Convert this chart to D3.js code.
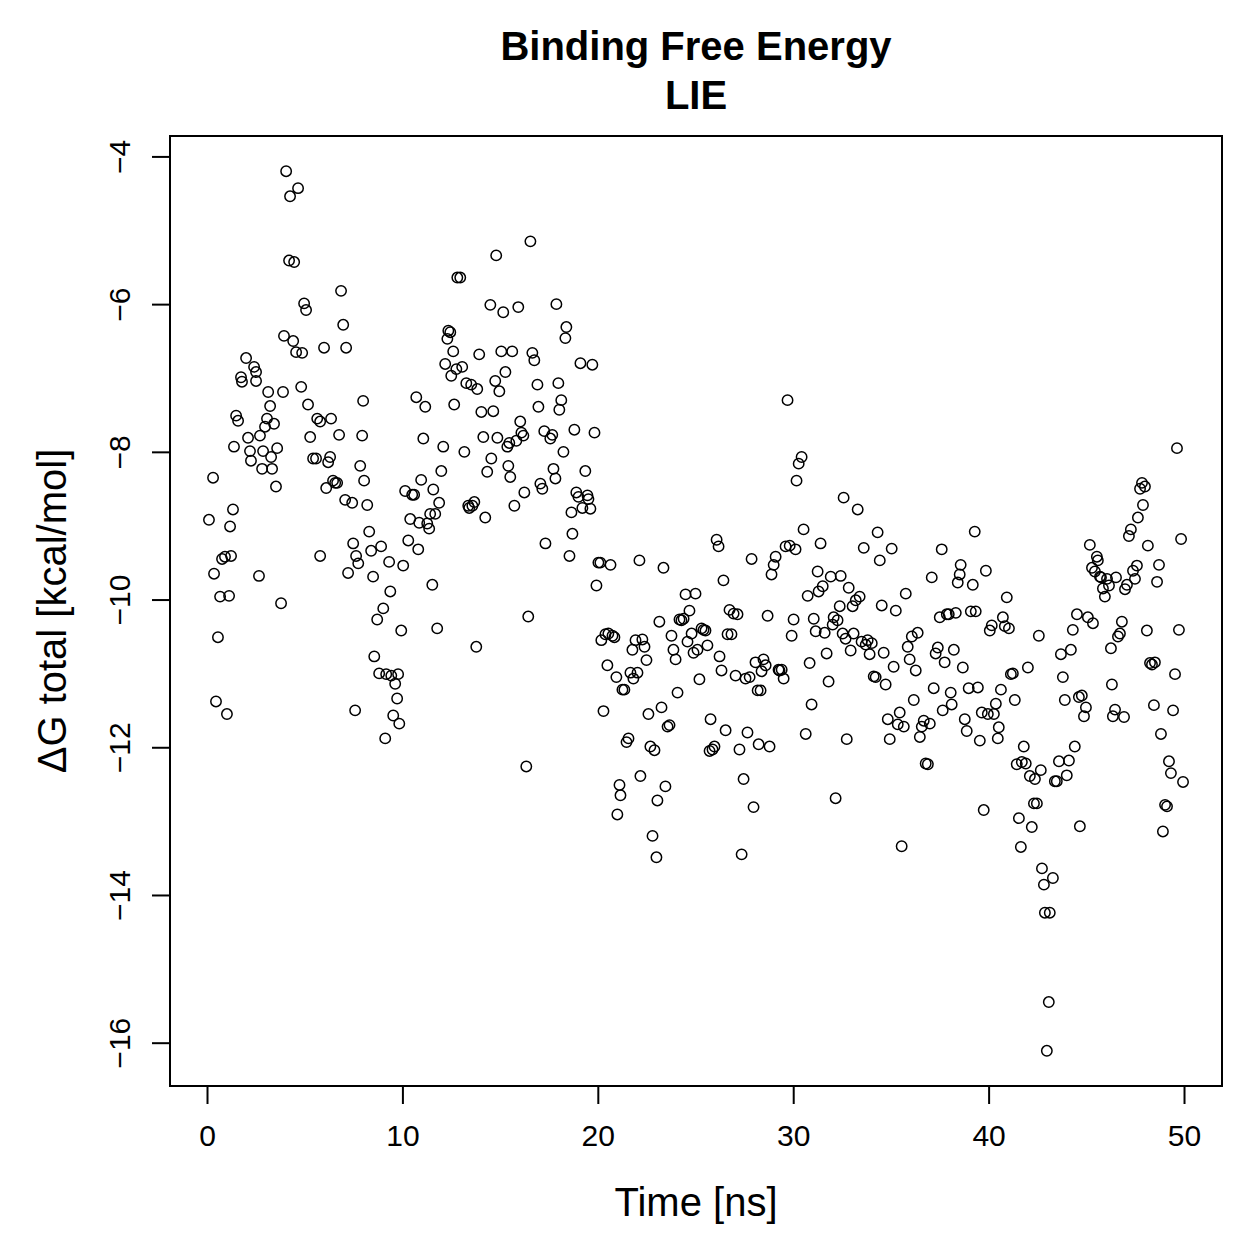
<!DOCTYPE html>
<html>
<head>
<meta charset="utf-8">
<script src="https://cdn.jsdelivr.net/npm/d3@7"></script>
<style>
  body { margin: 0; background: #fff; }
  svg text { font-family: "Liberation Sans", Arial, sans-serif; fill: #000; }
</style>
</head>
<body>
<svg id="chart" width="1259" height="1259"></svg>
<script>
// time in ns
var timeNs = [
0.10,0.31,0.36,0.67,0.56,0.46,0.77,0.92,1.02,1.13,1.18,1.33,1.23,1.38,1.49,1.59,1.74,1.79,2.00,2.10,
2.20,2.25,2.41,2.51,2.51,2.66,2.71,2.82,2.87,2.97,3.07,3.13,3.23,3.28,3.33,3.43,3.53,3.59,3.79,3.89,
3.94,4.05,4.25,4.66,4.20,4.46,4.41,4.56,4.87,4.82,4.97,5.07,5.17,5.28,5.43,5.58,5.64,5.79,5.79,5.99,
6.10,6.20,6.30,6.35,6.45,6.56,6.66,6.76,6.86,6.97,7.12,7.07,7.22,7.43,7.48,7.58,7.63,7.74,7.84,7.94,
7.99,8.04,8.20,8.30,8.40,8.50,8.56,8.71,8.81,8.91,9.02,9.12,9.17,9.32,9.38,9.43,9.53,9.63,9.73,9.78,
9.84,9.94,10.04,10.14,10.30,10.40,10.50,10.60,10.71,10.81,10.86,10.96,11.07,11.17,11.27,11.37,11.42,11.53,11.58,11.68,
11.78,11.88,11.99,12.09,12.19,12.30,12.35,12.45,12.50,12.60,12.65,12.76,12.81,12.96,13.06,13.17,13.27,13.37,13.42,13.52,
13.58,13.68,13.78,13.83,13.93,14.04,14.14,14.24,14.34,14.50,14.55,14.65,14.75,14.80,14.86,14.96,15.06,15.16,15.27,15.37,
15.42,15.47,15.52,15.62,15.73,15.83,15.93,16.03,16.09,16.19,16.24,16.34,16.44,16.55,16.65,16.75,16.91,16.96,17.06,17.16,
17.32,17.26,17.57,17.67,17.73,17.83,17.88,17.98,18.03,18.13,18.24,18.34,18.39,18.55,18.65,18.70,18.80,18.90,19.01,19.11,
19.21,19.36,19.47,19.52,19.62,19.72,19.83,19.93,20.03,20.13,20.18,20.29,20.39,20.49,20.54,20.65,20.75,20.85,20.95,21.00,
21.11,21.16,21.26,21.36,21.47,21.57,21.67,21.77,21.82,21.93,22.03,22.13,22.18,22.28,22.39,22.49,22.59,22.69,22.80,22.90,
23.00,23.05,23.15,23.26,23.36,23.46,23.57,23.67,23.77,23.87,23.98,24.08,24.18,24.28,24.39,24.49,24.59,24.69,24.80,24.90,
25.00,25.10,25.20,25.31,25.41,25.51,25.61,25.72,25.77,25.87,25.97,26.08,26.18,26.23,26.33,26.43,26.54,26.64,26.74,26.84,
26.95,27.05,27.15,27.25,27.36,27.46,27.56,27.66,27.77,27.87,27.97,28.07,28.18,28.23,28.33,28.38,28.48,28.59,28.69,28.79,
28.89,29.00,29.10,29.25,29.30,29.41,29.51,29.61,29.71,29.82,29.92,30.02,30.12,30.17,30.28,30.43,30.53,30.64,30.74,30.84,
30.94,31.05,31.15,31.25,31.30,31.40,31.51,31.61,31.71,31.81,31.92,32.02,32.07,32.17,32.27,32.38,32.43,32.53,32.58,32.68,
32.74,32.84,32.94,33.04,33.09,33.20,33.30,33.40,33.50,33.61,33.71,33.81,33.91,34.02,34.12,34.22,34.32,34.43,34.53,34.63,
34.73,34.84,34.94,35.04,35.14,35.25,35.35,35.45,35.55,35.66,35.76,35.86,35.96,36.07,36.17,36.27,36.37,36.48,36.58,36.68,
36.78,36.89,36.99,37.09,37.19,37.29,37.40,37.50,37.60,37.65,37.75,37.86,37.96,38.06,38.11,38.22,38.32,38.42,38.52,38.57,
38.68,38.78,38.88,38.98,39.09,39.19,39.29,39.34,39.45,39.55,39.65,39.75,39.86,39.96,40.06,40.16,40.27,40.37,40.47,40.52,
40.63,40.73,40.83,40.93,41.04,41.14,41.24,41.34,41.44,41.55,41.65,41.70,41.80,41.90,42.01,42.11,42.21,42.32,42.37,42.47,
42.57,42.67,42.73,42.83,42.88,42.98,43.08,43.13,43.29,43.39,43.49,43.60,43.70,43.80,43.90,44.00,44.11,44.21,44.31,44.41,
44.52,44.62,44.67,44.77,44.88,44.98,45.08,45.18,45.29,45.34,45.44,45.54,45.59,45.70,45.75,45.85,45.95,46.06,46.16,46.26,
46.31,46.36,46.47,46.52,46.62,46.72,46.82,46.93,46.98,47.08,47.18,47.28,47.39,47.49,47.59,47.64,47.75,47.85,47.90,48.00,
48.10,48.15,48.26,48.36,48.46,48.51,48.62,48.72,48.82,48.92,49.03,49.13,49.23,49.33,49.44,49.54,49.64,49.74,49.85,49.95
]

// Delta G total in kcal/mol, same order as timeNs
var dGTotal = [
-8.92,-8.35,-9.65,-9.96,-10.51,-11.38,-9.45,-9.42,-11.55,-9.95,-9.01,-8.78,-9.41,-7.93,-7.51,-7.58,-6.99,-7.05,-6.73,-7.81,
-7.99,-8.12,-6.85,-6.92,-7.04,-9.68,-7.78,-8.23,-7.99,-7.66,-7.55,-7.19,-7.38,-8.07,-8.23,-7.62,-8.47,-7.95,-10.05,-7.19,
-6.43,-4.20,-4.54,-4.43,-5.41,-5.43,-6.50,-6.65,-6.66,-7.12,-5.99,-6.08,-7.36,-7.80,-8.09,-8.09,-7.55,-7.59,-9.41,-6.59,
-8.49,-8.14,-8.07,-7.55,-8.39,-8.42,-8.42,-7.77,-5.82,-6.28,-6.59,-8.65,-9.64,-8.69,-9.24,-11.50,-9.41,-9.51,-8.19,-7.78,
-7.31,-8.39,-8.72,-9.08,-9.34,-9.69,-10.77,-10.27,-11.00,-9.28,-10.12,-11.88,-11.01,-9.49,-9.89,-11.03,-11.57,-11.14,-11.34,-11.01,
-11.68,-10.42,-9.54,-8.53,-9.20,-8.91,-8.58,-8.58,-7.26,-9.32,-8.96,-8.38,-7.82,-7.39,-8.97,-9.04,-8.84,-9.80,-8.51,-8.84,
-10.39,-8.69,-8.26,-7.93,-6.81,-6.47,-6.36,-6.38,-6.97,-6.64,-7.36,-6.88,-5.64,-5.64,-6.85,-8.00,-7.07,-8.73,-8.76,-7.09,
-8.73,-8.68,-10.64,-7.15,-6.68,-7.46,-7.80,-8.89,-8.27,-6.01,-8.09,-7.45,-7.04,-5.34,-7.81,-7.18,-6.64,-6.11,-6.92,-7.93,
-8.19,-7.88,-8.34,-6.64,-8.73,-7.85,-6.04,-7.59,-7.74,-7.78,-8.55,-12.26,-10.23,-5.15,-6.66,-6.76,-7.09,-7.39,-8.43,-8.50,
-9.24,-7.72,-7.82,-7.77,-8.23,-8.36,-6.00,-7.07,-7.43,-7.30,-8.00,-6.46,-6.31,-9.41,-8.82,-9.11,-7.70,-8.55,-8.61,-6.80,
-8.76,-8.26,-8.59,-8.64,-8.77,-6.82,-7.74,-9.81,-9.50,-9.50,-10.55,-11.51,-10.47,-10.89,-10.46,-9.53,-10.49,-10.51,-11.05,-12.91,
-12.51,-12.65,-11.22,-11.22,-11.93,-11.88,-10.99,-10.68,-11.07,-10.55,-10.99,-9.47,-12.39,-10.54,-10.64,-10.82,-11.55,-11.99,-13.20,-12.04,
-13.49,-12.72,-10.30,-11.46,-9.57,-12.53,-11.72,-11.70,-10.49,-10.68,-10.81,-11.26,-10.27,-10.28,-10.26,-9.93,-10.57,-10.15,-10.46,-10.72,
-9.92,-10.68,-11.08,-10.39,-10.41,-10.42,-10.62,-12.05,-11.62,-12.03,-11.99,-9.19,-9.28,-10.77,-10.96,-9.74,-11.77,-10.47,-10.14,-10.47,
-10.19,-11.03,-10.20,-12.03,-13.45,-12.43,-11.07,-11.80,-11.05,-9.45,-12.81,-10.85,-11.23,-11.96,-11.23,-10.97,-10.81,-10.89,-10.22,-11.99,
-9.66,-9.53,-9.42,-10.95,-10.96,-10.95,-11.07,-9.28,-7.30,-9.27,-10.49,-10.27,-9.32,-8.39,-8.16,-8.07,-9.05,-11.82,-9.95,-10.86,
-11.42,-10.26,-10.43,-9.62,-9.89,-9.24,-9.82,-10.45,-10.73,-11.11,-9.69,-10.34,-10.24,-12.69,-10.28,-10.09,-9.68,-10.46,-8.62,-10.53,
-11.89,-9.84,-10.69,-10.09,-10.46,-10.01,-8.78,-9.96,-10.57,-9.30,-10.61,-10.55,-10.74,-10.59,-11.04,-11.05,-9.09,-9.47,-10.08,-10.72,
-11.15,-11.62,-11.89,-9.31,-10.91,-10.15,-11.69,-11.53,-13.34,-11.72,-9.92,-10.64,-10.81,-10.50,-11.36,-10.96,-10.45,-11.86,-11.72,-11.64,
-12.22,-12.23,-11.68,-9.70,-11.20,-10.73,-10.65,-10.24,-9.32,-11.50,-10.85,-10.20,-10.20,-11.26,-11.42,-10.68,-10.18,-9.77,-9.66,-9.53,
-10.92,-11.62,-11.78,-11.20,-10.16,-9.80,-9.08,-10.16,-11.19,-11.91,-11.53,-12.85,-9.61,-11.55,-10.42,-10.35,-11.55,-11.41,-11.88,-11.73,
-11.22,-10.24,-10.36,-9.97,-10.39,-11.01,-11.00,-11.36,-12.23,-12.96,-13.35,-12.20,-11.99,-12.22,-10.92,-12.39,-13.08,-12.76,-12.43,-12.76,
-10.49,-12.31,-13.64,-13.86,-14.24,-16.11,-15.45,-14.24,-13.77,-12.46,-12.46,-12.19,-10.74,-11.05,-11.36,-12.38,-12.18,-10.68,-10.41,-11.99,
-10.20,-11.32,-13.07,-11.30,-11.58,-11.46,-10.24,-9.26,-9.57,-10.32,-9.62,-9.42,-9.47,-9.69,-9.70,-9.85,-9.96,-9.72,-9.81,-10.66,
-11.15,-11.58,-11.49,-9.70,-10.50,-10.46,-10.30,-11.59,-9.86,-9.80,-9.14,-9.05,-9.61,-9.72,-9.54,-8.89,-8.50,-8.42,-8.72,-8.47,
-10.42,-9.27,-10.86,-10.88,-11.43,-10.85,-9.76,-9.53,-11.82,-13.14,-12.78,-12.80,-12.19,-12.35,-11.50,-11.01,-7.95,-10.41,-9.18,-12.47
]

var xTicks = [0, 10, 20, 30, 40, 50]
var yTicks = [-4, -6, -8, -10, -12, -14, -16]
var titleLines = ["Binding Free Energy", "LIE"]

var dims = {
    width: 1259,
    height: 1259,
    box: { left: 170, right: 1222, top: 136, bottom: 1086 },
    tick: 18
}

var svg = d3.select("#chart")

var points = timeNs.map((t, i) => ({ t: t, g: dGTotal[i] }))

// R style 4% padding around the data range
var xExt = d3.extent(timeNs)
var yExt = d3.extent(dGTotal)
var xPad = (xExt[1] - xExt[0]) * 0.04
var yPad = (yExt[1] - yExt[0]) * 0.04

var xScale = d3.scaleLinear()
        .domain([xExt[0] - xPad, xExt[1] + xPad])
        .range([dims.box.left, dims.box.right])

var yScale = d3.scaleLinear()
        .domain([yExt[0] - yPad, yExt[1] + yPad])
        .range([dims.box.bottom, dims.box.top])

// points
svg.append("g")
        .selectAll("circle")
        .data(points)
        .enter()
        .append("circle")
        .attr("cx", d => xScale(d.t))
        .attr("cy", d => yScale(d.g))
        .attr("r", 5.2)
        .attr("fill", "none")
        .attr("stroke", "#000")
        .attr("stroke-width", 1.5)

// frame
svg.append("rect")
        .attr("x", dims.box.left)
        .attr("y", dims.box.top)
        .attr("width", dims.box.right - dims.box.left)
        .attr("height", dims.box.bottom - dims.box.top)
        .attr("fill", "none")
        .attr("stroke", "#000")
        .attr("stroke-width", 2)

// x axis
var xAxisGen = d3.axisBottom(xScale)
        .tickValues(xTicks)
        .tickSize(dims.tick)
        .tickPadding(21)
        .tickFormat(d3.format("d"))

var xAxis = svg.append("g")
        .attr("transform", `translate(0, ${dims.box.bottom})`)
        .call(xAxisGen)
xAxis.select(".domain")
        .attr("d", `M${xScale(xTicks[0])},0H${xScale(xTicks[xTicks.length - 1])}`)
        .attr("stroke-width", 2)
xAxis.selectAll("line").attr("stroke-width", 2)
xAxis.selectAll("text")
        .attr("font-size", 30)
        .attr("font-family", "Liberation Sans, Arial, sans-serif")

// y axis, labels turned like R's default
var yAxisGen = d3.axisLeft(yScale)
        .tickValues(yTicks)
        .tickSize(dims.tick)
        .tickFormat(d3.format("d"))

var yAxis = svg.append("g")
        .attr("transform", `translate(${dims.box.left}, 0)`)
        .call(yAxisGen)
yAxis.select(".domain")
        .attr("d", `M0,${yScale(yTicks[0])}V${yScale(yTicks[yTicks.length - 1])}`)
        .attr("stroke-width", 2)
yAxis.selectAll("line").attr("stroke-width", 2)
yAxis.selectAll("text")
        .attr("x", null)
        .attr("dy", null)
        .attr("transform", "translate(-40, 0) rotate(-90)")
        .attr("text-anchor", "middle")
        .attr("dominant-baseline", "auto")
        .attr("font-size", 30)
        .attr("font-family", "Liberation Sans, Arial, sans-serif")

// titles
var midX = (dims.box.left + dims.box.right) / 2
svg.append("g")
        .selectAll("text")
        .data(titleLines)
        .enter()
        .append("text")
        .attr("x", midX)
        .attr("y", (d, i) => 60 + i * 49)
        .attr("text-anchor", "middle")
        .attr("font-weight", "bold")
        .attr("font-size", 40)
        .text(d => d)

svg.append("text")
        .attr("x", midX)
        .attr("y", 1216)
        .attr("text-anchor", "middle")
        .attr("font-size", 40)
        .text("Time [ns]")

svg.append("text")
        .attr("transform", `translate(66, ${(dims.box.top + dims.box.bottom) / 2}) rotate(-90)`)
        .attr("text-anchor", "middle")
        .attr("font-size", 40)
        .text("ΔG total [kcal/mol]")
</script>
</body>
</html>
